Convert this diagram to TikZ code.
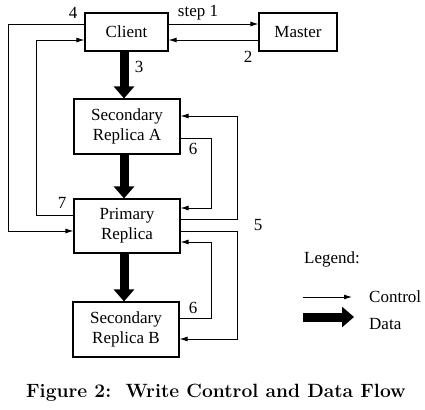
\documentclass[tikz,border=0pt]{standalone}
\usepackage{fontspec}
\newfontfamily\diagfont{Liberation Serif}
\usetikzlibrary{arrows.meta}
\begin{document}
\begin{tikzpicture}[x=1pt,y=-1pt,
	box/.style={draw,line width=1.1pt,minimum width=106pt,minimum height=55pt,inner sep=0pt,align=center,font=\diagfont\fontsize{17}{20}\selectfont},
	ctl/.style={line width=0.9pt,-{Latex[length=8pt,width=5pt]}},
	dat/.style={line width=9pt,-{Triangle[length=12pt,width=20pt]}},
	lbl/.style={font=\diagfont\fontsize{17}{20}\selectfont,inner sep=0pt}]
	\useasboundingbox (0,0) rectangle (425,409);
	\def\xa{237} % outer right line
	\def\xb{211} % inner right line
	\def\xd{124} % data arrows
	
	\node[box,minimum width=83pt,minimum height=38pt] (client) at (126.5,32) {Client};
	\node[box,minimum width=78pt,minimum height=38pt] (master) at (298,32) {Master};
	\node[box] (seca) at (127,126.5) {Secondary\\Replica A};
	\node[box,minimum height=54pt] (primary) at (127,226) {Primary\\Replica};
	\node[box] (secb) at (126,329.5) {Secondary\\Replica B};
	
	% data flow
	\draw[dat] (client.south -| \xd,0) -- (seca.north -| \xd,0);
	\draw[dat] (seca.south -| \xd,0) -- (primary.north -| \xd,0);
	\draw[dat] (primary.south -| \xd,0) -- (secb.north -| \xd,0);
	
	% control flow
	\draw[ctl] ([yshift=8pt]client.east) -- ([yshift=8pt]master.west);
	\draw[ctl] ([yshift=-8pt]master.west) -- ([yshift=-8pt]client.east);
	\draw[ctl] ([yshift=8pt]client.west) -| (8,231) -- ([yshift=-5pt]primary.west);
	\draw[ctl] ([yshift=11pt]primary.west) -| (36,40) -- ([yshift=-8pt]client.west);
	\draw[ctl] ([yshift=7pt]primary.east) -| (\xa,116) -- ([yshift=10.5pt]seca.east);
	\draw[ctl] ([yshift=-5pt]primary.east) -| (\xa,339) -- ([yshift=-9.5pt]secb.east);
	\draw[ctl] ([yshift=-11.5pt]seca.east) -| (\xb,208) -- ([yshift=18pt]primary.east);
	\draw[ctl] ([yshift=11.5pt]secb.east) -| (\xb,242) -- ([yshift=-16pt]primary.east);
	
	\node[lbl] (l4) at (73,13) {4};
	\node[lbl] (l1) at (198,13) {step 1};
	\node[lbl] (l2) at (248,57) {2};
	\node[lbl] (l3) at (139,67) {3};
	\node[lbl] (l6a) at (193,149) {6};
	\node[lbl] (l7) at (62,203) {7};
	\node[lbl] (l5) at (258,225) {5};
	\node[lbl] (l6b) at (193,308) {6};
	
	% legend
	\node[lbl,anchor=west] (legend) at (304,259) {Legend:};
	\node[lbl,anchor=west] (control) at (369,297) {Control};
	\node[lbl,anchor=west] (data) at (369,324) {Data};
	\coordinate (c0) at (303,297);
	\coordinate (d0) at (303,317);
	\draw[ctl] (c0) -- ++(49,0);
	\draw[dat] (d0) -- ++(51,0);
	
	\node[font=\bfseries\fontsize{19.2}{22}\selectfont] (caption) at (216,393) {Figure 2:\ \ Write Control and Data Flow};
\end{tikzpicture}
\end{document}
